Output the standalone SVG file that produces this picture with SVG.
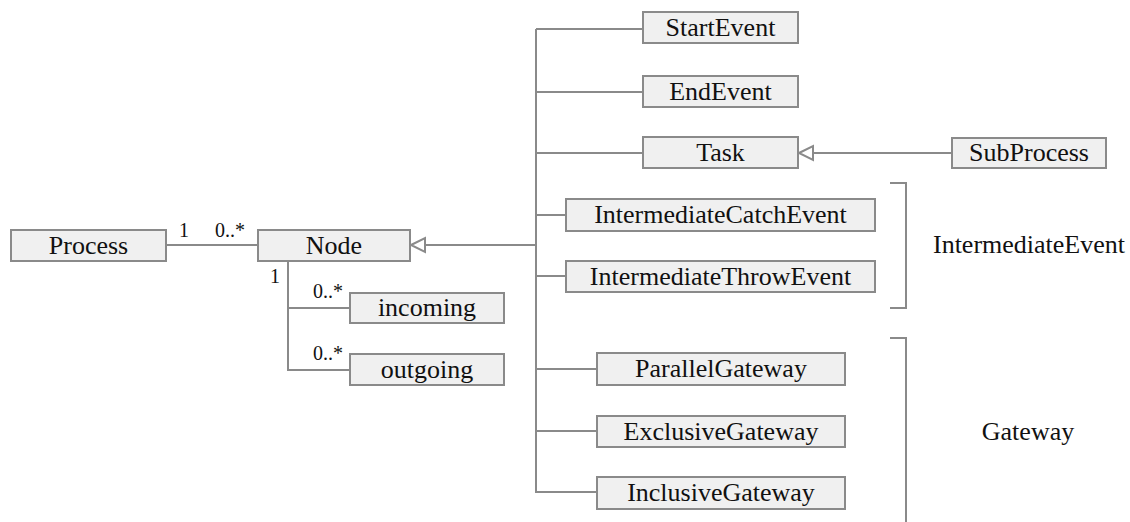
<svg xmlns="http://www.w3.org/2000/svg" width="1130" height="522" viewBox="0 0 1130 522">
<style>
.box{fill:#f0f0f0;stroke:#8a8a8a;stroke-width:2}
text{font-family:'Liberation Serif','Times New Roman',serif;fill:#111}
.t{font-size:26px;text-anchor:middle}
.m{font-size:20px}
.ln{fill:none;stroke:#8a8a8a;stroke-width:2}
.tri{fill:#fff;stroke:#8a8a8a;stroke-width:2}
</style>
<rect width="1130" height="522" fill="#fff"/>
<g id="connectors">
<path class="ln" d="M166 245H258"/>
<path class="ln" d="M288 262V370H350M288 308H350"/>
<path class="ln" d="M425 245H536"/>
<path class="ln" d="M536 29V492H597M536 29H643M536 92H643M536 153H643M536 215H566M536 276H566M536 369H597M536 431H597"/>
<path class="ln" d="M813 153H952"/>
<polygon class="tri" points="411,245 425,238 425,252"/>
<polygon class="tri" points="799,153 813,146 813,160"/>
<path class="ln" d="M890 183H906V308H890"/>
<path class="ln" d="M890 338H906V522"/>
</g>
<g id="labels">
<text class="m" x="179" y="237">1</text>
<text class="m" x="215" y="237">0..*</text>
<text class="m" x="270" y="283">1</text>
<text class="m" x="313" y="298">0..*</text>
<text class="m" x="313" y="360">0..*</text>
<text class="t" x="1029" y="253">IntermediateEvent</text>
<text class="t" x="1028" y="440">Gateway</text>
</g>
<g id="Process"><rect class="box" x="11" y="230" width="155" height="31"/><text class="t" x="88.5" y="254">Process</text></g>
<g id="Node"><rect class="box" x="258" y="230" width="152" height="31"/><text class="t" x="334" y="254">Node</text></g>
<g id="incoming"><rect class="box" x="350" y="293" width="154" height="30"/><text class="t" x="427" y="316">incoming</text></g>
<g id="outgoing"><rect class="box" x="350" y="354" width="154" height="31"/><text class="t" x="427" y="378">outgoing</text></g>
<g id="StartEvent"><rect class="box" x="643" y="12" width="155" height="31"/><text class="t" x="720.5" y="36">StartEvent</text></g>
<g id="EndEvent"><rect class="box" x="643" y="76" width="155" height="31"/><text class="t" x="720.5" y="100">EndEvent</text></g>
<g id="Task"><rect class="box" x="643" y="137" width="155" height="31"/><text class="t" x="720.5" y="161">Task</text></g>
<g id="SubProcess"><rect class="box" x="952" y="138" width="154" height="30"/><text class="t" x="1029" y="161">SubProcess</text></g>
<g id="IntermediateCatchEvent"><rect class="box" x="566" y="199" width="309" height="32"/><text class="t" x="720.5" y="223">IntermediateCatchEvent</text></g>
<g id="IntermediateThrowEvent"><rect class="box" x="566" y="261" width="309" height="31"/><text class="t" x="720.5" y="285">IntermediateThrowEvent</text></g>
<g id="ParallelGateway"><rect class="box" x="597" y="353" width="248" height="32"/><text class="t" x="721" y="377">ParallelGateway</text></g>
<g id="ExclusiveGateway"><rect class="box" x="597" y="416" width="248" height="31"/><text class="t" x="721" y="440">ExclusiveGateway</text></g>
<g id="InclusiveGateway"><rect class="box" x="597" y="477" width="248" height="32"/><text class="t" x="721" y="501">InclusiveGateway</text></g>
</svg>
